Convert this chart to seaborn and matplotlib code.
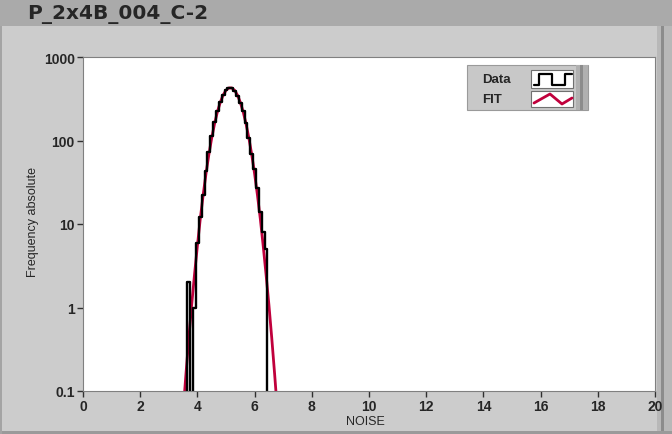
import numpy as np
import pandas as pd
import matplotlib
matplotlib.use('Agg')
import matplotlib.pyplot as plt
import seaborn as sns
from matplotlib.patches import Rectangle
from matplotlib.lines import Line2D
from matplotlib.ticker import FixedLocator, FixedFormatter, NullLocator

# histogram of the noise values (bin centres, counts)
bin_centers = [3.6, 3.7, 3.8, 3.9, 4.0, 4.1, 4.2, 4.3, 4.4, 4.5, 4.6, 4.7, 4.8,
               4.9, 5.0, 5.1, 5.2, 5.3, 5.4, 5.5, 5.6, 5.7, 5.8, 5.9, 6.0, 6.1,
               6.2, 6.3, 6.4, 6.5]
data_counts = [0, 2, 0, 1, 6, 12, 22, 43, 73, 113, 168, 228, 290,
               352, 398, 428, 420, 396, 345, 282, 224, 160, 106, 69, 45, 27,
               14, 8, 5, 0]

# gaussian fit
fit_x = [3.5, 3.6, 3.7, 3.8, 3.9, 4.0, 4.1, 4.2, 4.3, 4.4, 4.5, 4.6, 4.7, 4.8,
         4.9, 5.0, 5.1, 5.2, 5.3, 5.4, 5.5, 5.6, 5.7, 5.8, 5.9, 6.0, 6.1, 6.2,
         6.3, 6.4, 6.5, 6.6, 6.7, 6.8]
fit_y = [0.056, 0.16, 0.43, 1.08, 2.5, 5.5, 11.5, 22.1, 40, 67.7, 107, 159, 221, 287,
         350, 399, 426, 426, 399, 350, 287, 221, 159, 107, 67.7, 40, 22.1, 11.5,
         5.5, 2.5, 1.08, 0.43, 0.16, 0.056]

x_ticks = [0, 2, 4, 6, 8, 10, 12, 14, 16, 18, 20]
y_ticks = [0.1, 1, 10, 100, 1000]
y_tick_labels = ['0.1', '1', '10', '100', '1000']

title = 'P_2x4B_004_C-2'

W, H = 672, 435


def fx(px):
    return px / W


def fy(py):
    return 1 - py / H


sns.set_theme(style='white')
plt.rcParams['font.family'] = ['Liberation Sans', 'DejaVu Sans']

fig = plt.figure(figsize=(W / 100, H / 100), dpi=100, facecolor='#cccccc')

# window frame bits
fig.add_artist(Rectangle((0, fy(27)), 1, 27 / H, transform=fig.transFigure,
                         facecolor='#aaaaaa', edgecolor='none', zorder=0))
fig.add_artist(Rectangle((fx(657), 0), 15 / W, fy(27), transform=fig.transFigure,
                         facecolor='#b8b8b8', edgecolor='none', zorder=0))
fig.add_artist(Rectangle((fx(661), 0), 3 / W, fy(27), transform=fig.transFigure,
                         facecolor='#8c8c8c', edgecolor='none', zorder=0))
fig.add_artist(Rectangle((0, 0), 1, 3 / H, transform=fig.transFigure,
                         facecolor='#9a9a9a', edgecolor='none', zorder=0))
fig.add_artist(Rectangle((0, 0), 2 / W, fy(27), transform=fig.transFigure,
                         facecolor='#a4a4a4', edgecolor='none', zorder=0))

fig.text(fx(27), fy(14), title, fontsize=14.5, fontweight='bold',
         family='DejaVu Sans', va='center', ha='left')

ax = fig.add_axes([fx(83), fy(392), (655 - 83) / W, (392 - 58) / H])
ax.set_facecolor('white')

sns.lineplot(x=fit_x, y=fit_y, color='#c0003c', linewidth=2, ax=ax,
             estimator=None, sort=False)
sns.lineplot(x=bin_centers, y=data_counts, color='black', linewidth=1.7, ax=ax,
             estimator=None, sort=False, drawstyle='steps-mid')

ax.set_yscale('log')
ax.set_xlim(0, 20)
ax.set_ylim(0.1, 1000)
ax.xaxis.set_major_locator(FixedLocator(x_ticks))
ax.yaxis.set_major_locator(FixedLocator(y_ticks))
ax.yaxis.set_major_formatter(FixedFormatter(y_tick_labels))
ax.yaxis.set_minor_locator(NullLocator())
ax.tick_params(axis='both', direction='out', length=4, width=1, color='#303030',
               labelsize=10, pad=2, bottom=True, left=True)
for lbl in ax.get_xticklabels() + ax.get_yticklabels():
    lbl.set_fontweight('bold')
for sp in ax.spines.values():
    sp.set_color('#808080')
    sp.set_linewidth(0.8)
ax.set_xlabel('')
ax.set_ylabel('')

fig.text(fx(33), fy(222), 'Frequency absolute', rotation=90, fontsize=9,
         ha='center', va='center')
fig.text(fx(365), fy(422), 'NOISE', fontsize=9, ha='center', va='center')

# legend box, LabVIEW style
lx0, lx1, ly0, ly1 = 467, 588, 66, 111
fig.add_artist(Rectangle((fx(lx0), fy(ly1)), (lx1 - lx0) / W, (ly1 - ly0) / H,
                         transform=fig.transFigure, facecolor='#c8c8c8',
                         edgecolor='#9a9a9a', linewidth=0.8, zorder=5))
fig.add_artist(Rectangle((fx(576), fy(ly1)), (lx1 - 576) / W, (ly1 - ly0) / H,
                         transform=fig.transFigure, facecolor='#b0b0b0',
                         edgecolor='none', zorder=6))
fig.add_artist(Rectangle((fx(580), fy(ly1)), 3 / W, (ly1 - ly0) / H,
                         transform=fig.transFigure, facecolor='#8c8c8c',
                         edgecolor='none', zorder=6))
for label, y0, y1 in [('Data', 71, 89), ('FIT', 92, 108)]:
    fig.add_artist(Rectangle((fx(531), fy(y1)), 42 / W, (y1 - y0) / H,
                             transform=fig.transFigure, facecolor='white',
                             edgecolor='#707070', linewidth=0.8, zorder=6))
    fig.text(fx(482), fy((y0 + y1) / 2), label, fontsize=9.5, fontweight='bold',
             ha='left', va='center', zorder=7)

gx = [534, 539, 539, 552, 552, 565, 565, 572]
gy = [86, 86, 75, 75, 86, 86, 75, 75]
fig.add_artist(Line2D([fx(v) for v in gx], [fy(v) for v in gy], color='black',
                      linewidth=1.6, transform=fig.transFigure, zorder=8))
rx = [534, 550, 562, 572]
ry = [104, 95, 105, 99]
fig.add_artist(Line2D([fx(v) for v in rx], [fy(v) for v in ry], color='#c0003c',
                      linewidth=2, transform=fig.transFigure, zorder=8))

fig.savefig('out.png', dpi=100, facecolor=fig.get_facecolor())
